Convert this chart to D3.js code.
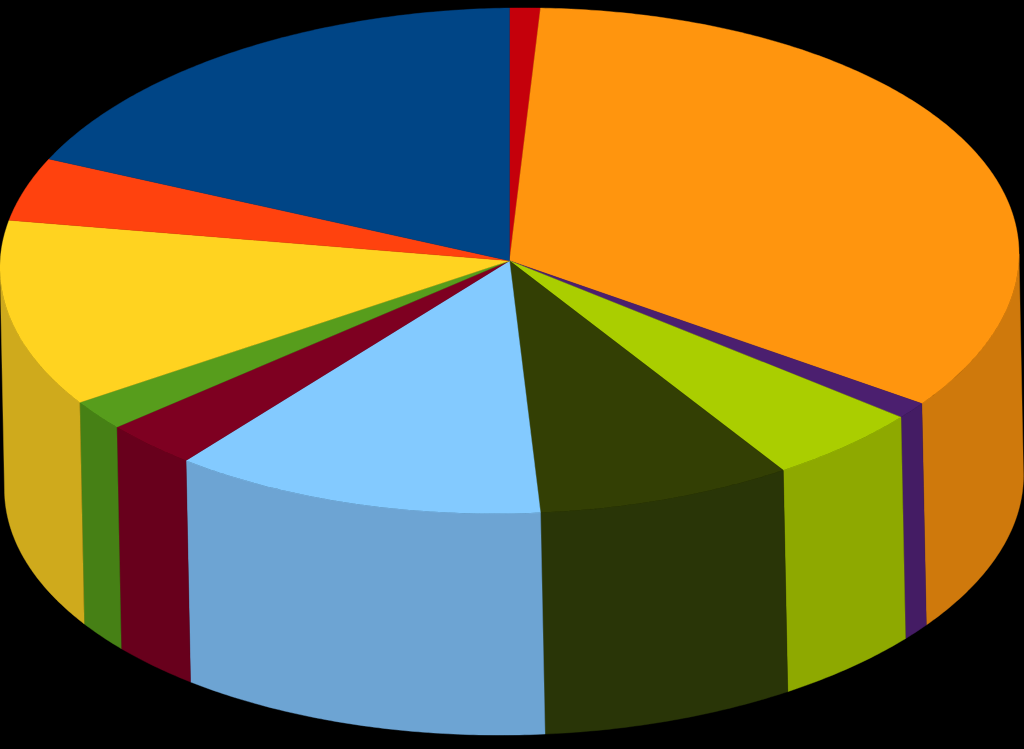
<!DOCTYPE html>
<html>
<head>
<meta charset="utf-8">
<script src="https://d3js.org/d3.v7.min.js"></script>
<style>
html,body{margin:0;padding:0;background:#000;overflow:hidden}
svg{display:block}
</style>
</head>
<body>
<svg id="chart" width="1024" height="749"></svg>
<script>
const sliceValues = [0.97,34.03,1.06,4.92,8.06,11.92,3.06,1.97,12.03,4.03,17.97];
const topColors = ["#C5000B","#FF950E","#4B1F6F","#AACE00","#333F04","#83CAFF","#7E0021","#579D1C","#FFD320","#FF420E","#004586"];
const wallColors = ["#A20009","#CF790C","#441C64","#8EA900","#293507","#6DA4D3","#68001C","#468015","#CFAA1C","#D0360B","#00386E"];

const W = 1024, H = 749;
const wallDX = 4.5, wallDY = 221.5;
const faceX = d3.scaleLinear().domain([-1,1]).range([0,1019]);
const faceY = d3.scaleLinear().domain([-1,1]).range([513.5,8]);
const faceTilt = d3.scaleLinear().domain([-1,1]).range([7,-7]);

const svg = d3.select("#chart").attr("viewBox",`0 0 ${W} ${H}`);
svg.append("rect").attr("width",W).attr("height",H).attr("fill","#000");

const slices = d3.pie().sort(null).value(d=>d)(sliceValues);
const rim = t=>[faceX(Math.sin(t)), faceY(Math.cos(t))+faceTilt(Math.sin(t))];
const rimArc = (a0,a1)=>{
  const n = Math.max(2,Math.ceil((a1-a0)/0.01));
  return d3.range(n+1).map(i=>rim(a0+(a1-a0)*i/n));
};
const line = d3.line();

function wallPath(a0,a1){
  const upper = rimArc(a0,a1);
  const lower = upper.slice().reverse().map(([x,y])=>[x+wallDX,y+wallDY]);
  return line(upper.concat(lower))+"Z";
}
function facePath(a0,a1){
  return line([[faceX(0),faceY(0)]].concat(rimArc(a0,a1)))+"Z";
}

const lo = Math.PI/2, hi = 3*Math.PI/2;
svg.append("g").selectAll("path")
  .data(slices.filter(d=>d.endAngle>lo && d.startAngle<hi))
  .join("path")
  .attr("d",d=>wallPath(Math.max(d.startAngle,lo),Math.min(d.endAngle,hi)))
  .attr("fill",d=>wallColors[d.index])
  .attr("stroke",d=>wallColors[d.index]).attr("stroke-width",0.4);

svg.append("g").selectAll("path")
  .data(slices)
  .join("path")
  .attr("d",d=>facePath(d.startAngle,d.endAngle))
  .attr("fill",d=>topColors[d.index])
  .attr("stroke",d=>topColors[d.index]).attr("stroke-width",0.4);
</script>
</body>
</html>
